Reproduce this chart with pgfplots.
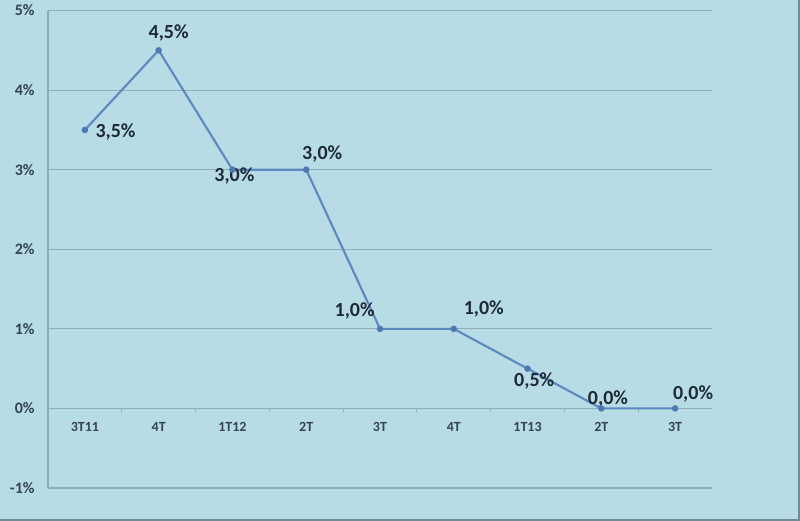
\documentclass[border=0pt]{standalone}
\usepackage{fontspec}
\setmainfont{Carlito}
\usepackage{pgfplots}
\pgfplotsset{compat=1.18}
\definecolor{bgcol}{HTML}{B8DCE6}
\definecolor{gridcol}{HTML}{8FADB6}
\definecolor{linecol}{HTML}{5D89C0}
\definecolor{markcol}{HTML}{4C79B0}
\definecolor{txtcol}{HTML}{1E2A33}
\definecolor{tickcol}{HTML}{34444E}
\begin{document}
\begin{tikzpicture}
\fill[bgcol] (0,0) rectangle (600pt,390.75pt);
\begin{axis}[
    name=main,
    at={(36pt,24.75pt)},
    anchor=south west,
    scale only axis,
    width=498pt,
    height=358.1pt,
    xmin=0, xmax=9,
    ymin=-1, ymax=5,
    axis x line=middle,
    axis y line=left,
    axis line style={-, draw=gridcol, line width=0.8pt},
    ymajorgrids,
    grid style={draw=gridcol, line width=0.8pt},
    ytick={-1,0,1,2,3,4,5},
    yticklabels={-1\%,0\%,1\%,2\%,3\%,4\%,5\%},
    ytick style={draw=none},
    yticklabel style={font=\fontsize{12}{14}\selectfont\bfseries, text=tickcol, xshift=-6.5pt},
    xtick={0.5,1.5,...,8.5},
    xticklabels={3T11,4T,1T12,2T,3T,4T,1T13,2T,3T},
    minor xtick={1,2,...,8},
    major tick length=0pt,
    minor tick length=3pt,
    tick align=outside,
    xtick style={draw=gridcol, line width=0.8pt},
    xticklabel style={font=\fontsize{10.5}{12}\selectfont\bfseries, text=tickcol, yshift=-7pt},
    clip=false,
]
\addplot[linecol, line width=1.6pt, mark=*, mark size=1.6pt,
    mark options={fill=markcol, draw=markcol}] coordinates {
    (0.5,3.5) (1.5,4.5) (2.5,3.0) (3.5,3.0) (4.5,1.0)
    (5.5,1.0) (6.5,0.5) (7.5,0.0) (8.5,0.0)
};
\begin{scope}[every node/.style={font=\fontsize{15}{17}\selectfont\bfseries, text=txtcol, inner sep=0pt}]
\node[anchor=center, xshift=23pt, yshift=-1.5pt] at (axis cs:0.5,3.5) {3,5\%};
\node[anchor=center, xshift=7.5pt, yshift=13pt] at (axis cs:1.5,4.5) {4,5\%};
\node[anchor=center, xshift=1.5pt, yshift=-4.5pt] at (axis cs:2.5,3.0) {3,0\%};
\node[anchor=center, xshift=12pt, yshift=12pt] at (axis cs:3.5,3.0) {3,0\%};
\node[anchor=center, xshift=-19pt, yshift=13.5pt] at (axis cs:4.5,1.0) {1,0\%};
\node[anchor=center, xshift=22.5pt, yshift=15pt] at (axis cs:5.5,1.0) {1,0\%};
\node[anchor=center, xshift=5pt, yshift=-9pt] at (axis cs:6.5,0.5) {0,5\%};
\node[anchor=center, xshift=5pt, yshift=7pt] at (axis cs:7.5,0.0) {0,0\%};
\node[anchor=center, xshift=13.5pt, yshift=11pt] at (axis cs:8.5,0.0) {0,0\%};
\end{scope}
\end{axis}
\draw[gridcol!80!black, line width=1.2pt] (0,0.6pt) -- (599.4pt,0.6pt) -- (599.4pt,390.75pt);
\pgfresetboundingbox
\useasboundingbox (0,0) rectangle (600pt,390.75pt);
\end{tikzpicture}
\end{document}
